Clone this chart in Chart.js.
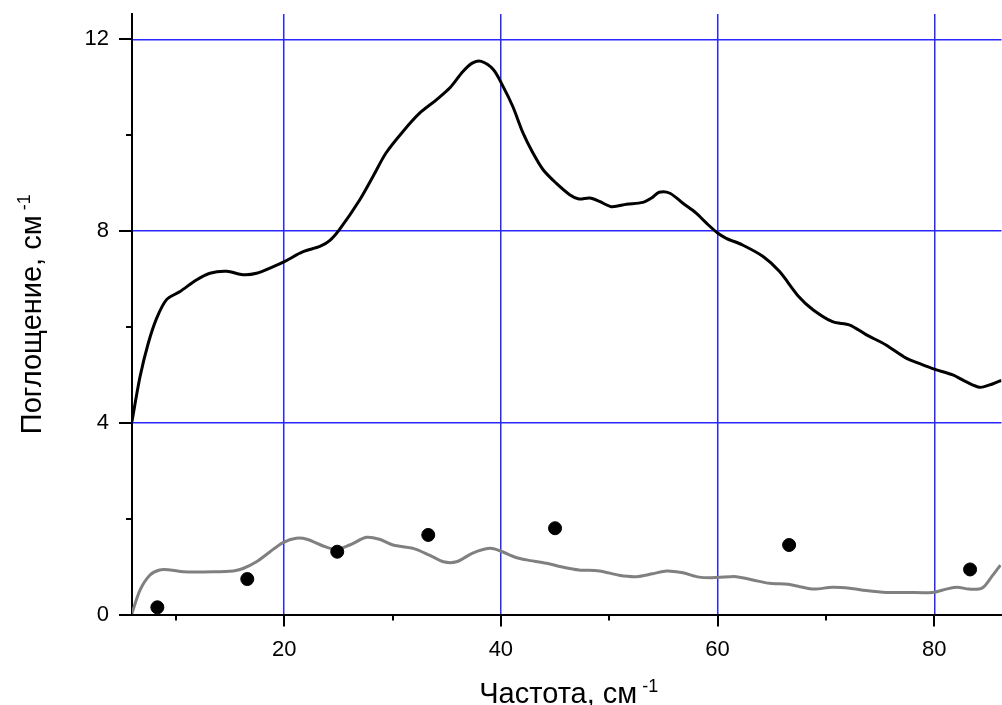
<!DOCTYPE html>
<html>
<head>
<meta charset="utf-8">
<script src="https://cdn.jsdelivr.net/npm/chart.js@4.4.1/dist/chart.umd.min.js"></script>
<style>
html,body{margin:0;padding:0;background:#fff;overflow:hidden;}
#box{width:1002px;height:705px;overflow:hidden;}
</style>
</head>
<body>
<div id="box"><canvas id="myChart" width="1009" height="705"></canvas></div>
<script>
// upper curve (black)
var blackX = [5.95,6.7,7.46,8.23,9.15,10.4,11.9,13.15,14.7,16.2,17.45,19,20.07,21.75,23.3,24.2,25.1,26.97,28.2,29.4,30.97,32.5,34.05,35.3,36.5,37.4,38.2,39.3,40.2,41.1,42.04,42.96,43.9,45.1,46.35,47.2,48.2,49.1,50.2,51.6,53.1,53.9,54.6,55.6,56.8,58.0,58.95,60.0,60.8,62.3,64.2,65.7,67.5,68.8,70.6,72.2,73.7,75.5,77.4,78.6,80,81.7,82.9,84.2,85.1,86.0,86.2];
var blackY = [4.02,4.96,5.66,6.18,6.57,6.74,6.98,7.12,7.16,7.09,7.12,7.26,7.37,7.57,7.68,7.8,8.03,8.65,9.14,9.63,10.08,10.46,10.74,10.99,11.33,11.51,11.54,11.37,11.02,10.6,10.05,9.63,9.28,9.0,8.76,8.67,8.69,8.62,8.51,8.56,8.6,8.69,8.81,8.79,8.58,8.38,8.17,7.96,7.85,7.71,7.47,7.16,6.63,6.36,6.11,6.04,5.84,5.63,5.35,5.24,5.12,5.0,4.86,4.74,4.79,4.87,4.88];

// lower curve (gray)
var grayX = [5.95,6.7,7.6,8.5,9.46,10.7,13.45,15.3,16.2,17.45,18.7,19.9,21.1,22.1,23.6,24.8,26.05,27.6,28.8,30.05,31.9,33.4,34.7,35.9,37.4,38.97,39.9,41.4,42.35,44.2,45.7,47.2,49.1,50.9,52.5,54.0,55.3,56.8,58.3,59.9,61.7,63.25,64.8,66.5,67.6,68.9,70.6,72.2,73.7,75.6,77.4,79.85,81.1,82.1,83.2,84.4,85.2,86.1];
var grayY = [0.02,0.51,0.82,0.93,0.93,0.89,0.89,0.91,0.96,1.1,1.31,1.5,1.59,1.57,1.43,1.36,1.45,1.61,1.57,1.45,1.38,1.24,1.1,1.1,1.28,1.38,1.33,1.19,1.14,1.07,0.99,0.93,0.91,0.82,0.79,0.85,0.91,0.87,0.78,0.77,0.79,0.72,0.65,0.63,0.58,0.53,0.57,0.55,0.5,0.46,0.46,0.46,0.53,0.57,0.53,0.55,0.76,1.03];

// measured points
var dotX = [8.3,16.6,24.9,33.3,45.0,66.6,83.3];
var dotY = [0.15,0.74,1.31,1.66,1.8,1.45,0.94];

var xMin = 5.96, xMax = 86.2;
var yMin = 0, yMax = 12.53;
var xTicks = [10,20,30,40,50,60,70,80];
var yTicks = [0,2,4,6,8,10,12];
var xMajor = [20,40,60,80];
var yMajor = [0,4,8,12];

function pts(xs, ys){
  return xs.map(function(x,i){ return {x:x, y:ys[i]}; });
}

var FONT = 'Liberation Sans, Arial, sans-serif';
var GRID = '#2828ff';

var axisDecor = {
  id: 'axisDecor',
  afterDraw: function(chart){
    var ctx = chart.ctx, a = chart.chartArea;
    var xs = chart.scales.x, ys = chart.scales.y;
    ctx.save();
    ctx.strokeStyle = '#000';
    ctx.lineWidth = 2;
    xTicks.forEach(function(v){
      var px = Math.round(xs.getPixelForValue(v));
      var len = xMajor.indexOf(v) >= 0 ? 12 : 6;
      ctx.beginPath(); ctx.moveTo(px, a.bottom); ctx.lineTo(px, a.bottom + len); ctx.stroke();
    });
    yTicks.forEach(function(v){
      var py = Math.round(ys.getPixelForValue(v));
      var len = yMajor.indexOf(v) >= 0 ? 13 : 6;
      ctx.beginPath(); ctx.moveTo(a.left, py); ctx.lineTo(a.left - len, py); ctx.stroke();
    });

    // axis titles with superscript
    function title(main, sup){
      ctx.font = '29px ' + FONT;
      var w1 = ctx.measureText(main).width;
      ctx.font = '18px ' + FONT;
      var w2 = ctx.measureText(sup).width;
      var x0 = -(w1 + 5 + w2) / 2;
      ctx.fillStyle = '#000';
      ctx.textBaseline = 'alphabetic';
      ctx.textAlign = 'left';
      ctx.font = '29px ' + FONT;
      ctx.fillText(main, x0, 0);
      ctx.font = '18px ' + FONT;
      ctx.fillText(sup, x0 + w1 + 5, -11);
    }
    ctx.save();
    ctx.translate((a.left + a.right) / 2 + 2, 703);
    title('Частота, см', '-1');
    ctx.restore();
    ctx.save();
    ctx.translate(41, (a.top + a.bottom) / 2);
    ctx.rotate(-Math.PI / 2);
    title('Поглощение, см', '-1');
    ctx.restore();
    ctx.restore();
  }
};

new Chart('myChart', {
  type: 'scatter',
  data: {
    datasets: [
      {
        data: pts(dotX, dotY),
        backgroundColor: '#000',
        borderColor: '#000',
        pointRadius: 6.5,
        showLine: false
      },
      {
        data: pts(blackX, blackY),
        borderColor: '#000',
        borderWidth: 3,
        pointRadius: 0,
        showLine: true,
        tension: 0.3
      },
      {
        data: pts(grayX, grayY),
        borderColor: '#808080',
        borderWidth: 3,
        pointRadius: 0,
        showLine: true,
        tension: 0.3
      }
    ]
  },
  options: {
    responsive: false,
    animation: false,
    layout: { padding: { top: 14, right: 0, left: 0, bottom: 0 } },
    plugins: { legend: { display: false }, tooltip: { enabled: false } },
    scales: {
      x: {
        type: 'linear',
        min: xMin,
        max: xMax,
        afterFit: function(s){ s.height = 90.5; s.paddingLeft = 0; s.paddingRight = 0; },
        afterBuildTicks: function(s){ s.ticks = xTicks.map(function(v){ return {value:v}; }); },
        grid: {
          drawTicks: true,
          tickLength: 22,
          tickColor: 'rgba(0,0,0,0)',
          lineWidth: 1.5,
          color: function(c){ return (c.tick && xMajor.indexOf(c.tick.value) >= 0) ? GRID : 'rgba(0,0,0,0)'; }
        },
        border: { display: true, color: '#000', width: 2 },
        ticks: {
          autoSkip: false,
          maxRotation: 0,
          padding: 0,
          color: '#000',
          font: { family: FONT, size: 22 },
          callback: function(v){ return xMajor.indexOf(v) >= 0 ? String(v) : ''; }
        }
      },
      y: {
        type: 'linear',
        min: yMin,
        max: yMax,
        afterFit: function(s){ s.width = 132; s.paddingTop = 0; s.paddingBottom = 0; },
        afterBuildTicks: function(s){ s.ticks = yTicks.map(function(v){ return {value:v}; }); },
        grid: {
          drawTicks: true,
          tickLength: 23,
          tickColor: 'rgba(0,0,0,0)',
          lineWidth: 1.5,
          color: function(c){ return (c.tick && c.tick.value !== 0 && yMajor.indexOf(c.tick.value) >= 0) ? GRID : 'rgba(0,0,0,0)'; }
        },
        border: { display: true, color: '#000', width: 2 },
        ticks: {
          autoSkip: false,
          padding: 0,
          color: '#000',
          font: { family: FONT, size: 22 },
          callback: function(v){ return yMajor.indexOf(v) >= 0 ? String(v) : ''; }
        }
      }
    }
  },
  plugins: [axisDecor]
});
</script>
</body>
</html>
